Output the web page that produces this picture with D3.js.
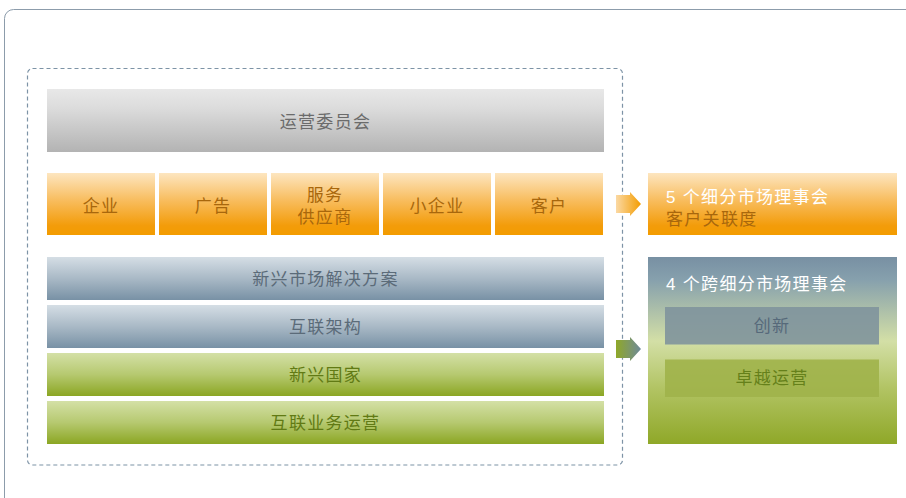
<!DOCTYPE html>
<html><head><meta charset="utf-8">
<script src="https://cdn.jsdelivr.net/npm/d3@7"></script>
<style>
html,body{margin:0;padding:0;background:#fff;}
svg{display:block;font-family:"Liberation Sans","Noto Sans CJK SC",sans-serif;}
</style></head>
<body><svg id="c" width="906" height="498"></svg>
<script>
// ---- data ----
const committee = ["运营委员会"];
const segments = ["企业", "广告", "服务\n供应商", "小企业", "客户"];
const solutionBars = ["新兴市场解决方案", "互联架构"];
const operationBars = ["新兴国家", "互联业务运营"];
const segmentCouncil = ["5 个细分市场理事会", "客户关联度"];
const crossCouncil = ["4 个跨细分市场理事会"];
const crossItems = ["创新", "卓越运营"];

const svg = d3.select("#c");
const defs = svg.append("defs");
function vgrad(id, stops, horiz) {
  const g = defs.append("linearGradient").attr("id", id)
    .attr("x1", 0).attr("y1", 0).attr("x2", horiz ? 1 : 0).attr("y2", horiz ? 0 : 1);
  stops.forEach(s => g.append("stop").attr("offset", s[0]).attr("stop-color", s[1]));
}
vgrad("gGray", [[0, "#e8e8e8"], [0.3, "#dcdcdc"], [1, "#b3b3b3"]]);
vgrad("gOrange", [[0, "#fde6c0"], [0.45, "#f8bc5c"], [0.85, "#f39c0a"], [1, "#f39c00"]]);
vgrad("gBlue", [[0, "#d5dee5"], [0.5, "#a9b9c6"], [1, "#7891a5"]]);
vgrad("gGreen", [[0, "#d4e0a6"], [0.5, "#b6c970"], [1, "#8ba623"]]);
vgrad("gRight", [[0, "#7890a3"], [0.12, "#86a0ad"], [0.45, "#d3dfa6"], [0.7, "#b2c464"], [1, "#8fa828"]]);
vgrad("gArrowO", [[0, "#fbd9a4"], [1, "#f39c00"]], true);
vgrad("gArrowG", [[0, "#8fa828"], [1, "#6e8a9a"]], true);

// outer frame
svg.append("rect").attr("x", 4.5).attr("y", 9.5).attr("width", 940).attr("height", 520)
  .attr("rx", 9).attr("fill", "none").attr("stroke", "#8c9cab").attr("stroke-width", 1);

// dashed container
svg.append("rect").attr("x", 27.5).attr("y", 68.5).attr("width", 595).attr("height", 396.5)
  .attr("rx", 5).attr("fill", "none").attr("stroke", "#7d93a6").attr("stroke-width", 1.2)
  .attr("stroke-dasharray", "4,3");

const left = 47, right = 604;
const txt = (g, x, y, s, fill, anchor) => g.append("text").attr("x", x).attr("y", y)
  .attr("text-anchor", anchor || "middle").attr("font-size", 17).attr("letter-spacing", "1.3px")
  .attr("fill", fill).text(s);

// committee
const gc = svg.append("g");
gc.selectAll("rect").data(committee).join("rect")
  .attr("x", left).attr("y", 89).attr("width", right - left).attr("height", 63).attr("fill", "url(#gGray)");
committee.forEach(s => txt(gc, (left + right) / 2, 128, s, "#6b6b6b"));

// segments
const xs = d3.scaleBand().domain(segments).range([left, 603]).paddingInner(4 / 112).paddingOuter(0);
const gs = svg.append("g");
segments.forEach(s => {
  const x = xs(s), w = xs.bandwidth();
  gs.append("rect").attr("x", x).attr("y", 173).attr("width", w).attr("height", 62).attr("fill", "url(#gOrange)");
  const lines = s.split("\n");
  const cy = 212 - (lines.length - 1) * 11;
  const t = gs.append("text").attr("text-anchor", "middle").attr("font-size", 17)
    .attr("letter-spacing", "1.3px").attr("fill", "#a8670c");
  lines.forEach((l, i) => t.append("tspan").attr("x", x + w / 2).attr("y", cy + i * 22).text(l));
});

// bars
const bars = solutionBars.concat(operationBars);
const ys = d3.scaleBand().domain(bars).range([257, 444]).paddingInner(5 / 48).paddingOuter(0);
const gb = svg.append("g");
bars.forEach(b => {
  const isBlue = solutionBars.includes(b);
  gb.append("rect").attr("x", left).attr("y", ys(b)).attr("width", right - left).attr("height", ys.bandwidth())
    .attr("fill", isBlue ? "url(#gBlue)" : "url(#gGreen)");
  txt(gb, (left + right) / 2, ys(b) + ys.bandwidth() / 2 + 6, b, isBlue ? "#5b6b79" : "#617a14");
});

// arrows
function arrow(cy, fill) {
  const p = d3.path();
  p.moveTo(616, cy - 9); p.lineTo(630, cy - 9); p.lineTo(630, cy - 12); p.lineTo(641, cy);
  p.lineTo(630, cy + 12); p.lineTo(630, cy + 9); p.lineTo(616, cy + 9); p.closePath();
  svg.append("path").attr("d", p.toString()).attr("fill", fill);
}
arrow(204, "url(#gArrowO)");
arrow(349, "url(#gArrowG)");

// right orange council
const gr = svg.append("g");
gr.append("rect").attr("x", 648).attr("y", 173).attr("width", 249).attr("height", 62).attr("fill", "url(#gOrange)");
const t2 = gr.append("text").attr("font-size", 17).attr("letter-spacing", "1.3px");
t2.append("tspan").attr("x", 666).attr("y", 203).attr("fill", "#ffffff").text(segmentCouncil[0]);
t2.append("tspan").attr("x", 666).attr("y", 225).attr("fill", "#a8670c").text(segmentCouncil[1]);

// right cross council
const gx = svg.append("g");
gx.append("rect").attr("x", 648).attr("y", 257).attr("width", 249).attr("height", 187).attr("fill", "url(#gRight)");
txt(gx, 666, 290, crossCouncil[0], "#ffffff", "start");
const yi = d3.scaleBand().domain(crossItems).range([307, 397]).paddingInner(15 / 52.5).paddingOuter(0);
const itemFill = ["#7f949c", "#a0b34a"], itemText = ["#56697a", "#65801a"];
crossItems.forEach((c, i) => {
  gx.append("rect").attr("x", 665).attr("y", yi(c)).attr("width", 214).attr("height", yi.bandwidth())
    .attr("fill", itemFill[i]).attr("opacity", 0.9);
  txt(gx, 772, yi(c) + yi.bandwidth() / 2 + 6, c, itemText[i]);
});
</script></body></html>
